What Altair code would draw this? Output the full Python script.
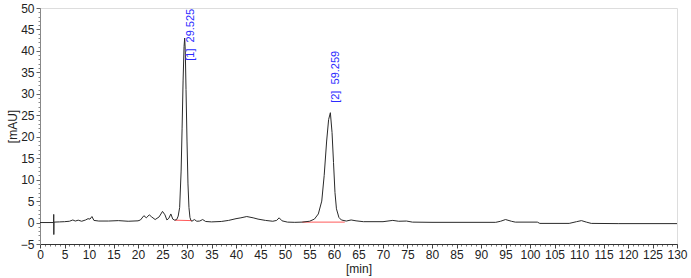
import altair as alt
import pandas as pd

# Chromatogram trace (time in min, signal in mAU)
times = [0, 2.78, 2.8, 2.82, 2.85, 4, 5, 6, 6.7, 7.2, 7.8, 8.5, 9.3, 9.8, 10.2, 10.6, 11.0,
         12, 14, 16, 18, 20, 20.5, 21.2, 21.7, 22.3, 22.8, 23.5, 24.3, 25.0, 25.5, 25.9,
         26.3, 26.7, 27.1, 27.5, 27.9, 28.2, 28.5, 28.8, 29.0, 29.2, 29.4, 29.525, 29.65,
         29.8, 30.0, 30.2, 30.4, 30.6, 30.8, 31.0, 31.5, 32.0, 32.6, 33.2, 33.8, 35, 37,
         38.5, 40, 41, 42.2, 43.5, 44.5, 46, 47.5, 48.3, 48.8, 49.4, 50.5, 52, 53.5, 55,
         56, 56.8, 57.5, 58.0, 58.5, 58.9, 59.259, 59.6, 59.9, 60.2, 60.5, 61.0, 61.5,
         62.5, 63.5, 64.5, 66, 70, 72, 73.2, 74.8, 76, 80, 93, 94, 95, 96.2, 97, 101.5,
         102, 108, 109.5, 110.5, 111.5, 112.5, 118, 130]
values = [0.0, 0.0, 1.9, -2.8, 0.1, 0.15, 0.2, 0.3, 0.6, 0.35, 0.55, 0.3, 0.6, 0.9, 0.8, 1.4, 0.5,
          0.35, 0.35, 0.45, 0.3, 0.4, 0.6, 1.6, 1.1, 1.8, 1.3, 0.7, 1.3, 2.6, 1.8, 0.6,
          1.0, 2.0, 0.8, 0.55, 0.7, 1.5, 3.5, 12, 22, 33, 41, 43, 40,
          31, 19, 9, 3.5, 1.2, 0.5, 0.3, 0.7, 0.3, 0.35, 0.7, 0.25, 0.15, 0.25,
          0.5, 0.9, 1.1, 1.4, 1.1, 0.8, 0.5, 0.3, 0.5, 1.1, 0.4, 0.1, 0.05, 0.1, 0.3,
          0.8, 2.0, 5, 11, 19, 24, 25.6, 21, 14, 7, 3.2, 1.2, 0.6,
          0.35, 0.6, 0.4, 0.2, 0.2, 0.5, 0.3, 0.35, 0.1, 0.05, 0.05, 0.3, 0.7, 0.3, 0.1, 0.1,
          -0.2, -0.2, 0.2, 0.45, 0.1, -0.2, -0.25, -0.25]

# Integration baselines (red)
base_seg = ["1", "1", "2", "2"]
base_t = [27.5, 31.0, 53.5, 62.2]
base_v = [0.55, 0.45, 0.1, 0.1]

# Peak labels
peak_t = [29.525, 59.259]
peak_label_y = [37.7, 27.9]
peak_text = ["[1]\u00a0\u00a029.525", "[2]\u00a0\u00a059.259"]

x_ticks = list(range(0, 131, 5))
y_ticks = list(range(-5, 51, 5))
x_minor = list(range(0, 131))
y_minor = list(range(-5, 51))

FONT = "Liberation Sans"

trace_df = pd.DataFrame({"t": times, "v": values})
base_df = pd.DataFrame({"seg": base_seg, "t": base_t, "v": base_v})
label_df = pd.DataFrame({"t": peak_t, "v": peak_label_y, "txt": peak_text})

x_scale = alt.Scale(domain=[0, 130], nice=False, zero=False)
y_scale = alt.Scale(domain=[-5, 50], nice=False, zero=False)

x_axis = alt.Axis(
    values=x_ticks, orient="bottom",
    tickSize=4,
    tickColor="#444",
    domainColor="#333",
    grid=False,
    labelFont=FONT, labelFontSize=12, labelColor="#222", labelPadding=1,
    labelOverlap=False, labelFlush=False,
    title="[min]", titleFont=FONT, titleFontSize=12, titleFontWeight="normal",
    titleColor="#222", titlePadding=3,
)
y_axis = alt.Axis(
    values=y_ticks, orient="left",
    tickSize=4,
    tickColor="#666",
    domainColor="#888",
    grid=False,
    labelFont=FONT, labelFontSize=12, labelColor="#222", labelPadding=2,
    labelOverlap=False, labelFlush=False,
    title="[mAU]", titleFont=FONT, titleFontSize=12, titleFontWeight="normal",
    titleColor="#222", titlePadding=1,
)
x_minor_axis = alt.Axis(
    values=x_minor, orient="bottom", tickSize=2, tickColor="#777",
    labels=False, domain=False, grid=False, title=None,
)
y_minor_axis = alt.Axis(
    values=y_minor, orient="left", tickSize=2, tickColor="#888",
    labels=False, domain=False, grid=False, title=None,
)

trace = alt.Chart(trace_df).mark_line(color="#2a2a2a", strokeWidth=1, clip=True).encode(
    x=alt.X("t:Q", scale=x_scale, axis=x_axis),
    y=alt.Y("v:Q", scale=y_scale, axis=y_axis),
    order="t:Q",
)

minor = alt.Chart(trace_df).mark_line(opacity=0).encode(
    x=alt.X("t:Q", scale=x_scale, axis=x_minor_axis),
    y=alt.Y("v:Q", scale=y_scale, axis=y_minor_axis),
)

baseline = alt.Chart(base_df).mark_line(color="#ff5a5a", strokeWidth=1).encode(
    x=alt.X("t:Q", scale=x_scale, axis=x_axis),
    y=alt.Y("v:Q", scale=y_scale, axis=y_axis),
    detail="seg:N",
)

labels = alt.Chart(label_df).mark_text(
    angle=270, align="left", baseline="top", font=FONT, fontSize=11, color="#2b2bff"
).encode(
    x=alt.X("t:Q", scale=x_scale, axis=x_axis),
    y=alt.Y("v:Q", scale=y_scale, axis=y_axis),
    text="txt:N",
)

main = alt.layer(baseline, trace, labels)

chart = alt.layer(minor, main).resolve_axis(x="independent", y="independent").properties(
    width=637,
    height=236,
    padding={"left": 40, "top": 8, "right": 14, "bottom": 34},
    autosize=alt.AutoSizeParams(type="none"),
).configure_view(stroke="#a8a8a8", strokeWidth=1.5).configure(background="white")

chart.save("out.html", embed_options={"renderer": "svg", "actions": False})
